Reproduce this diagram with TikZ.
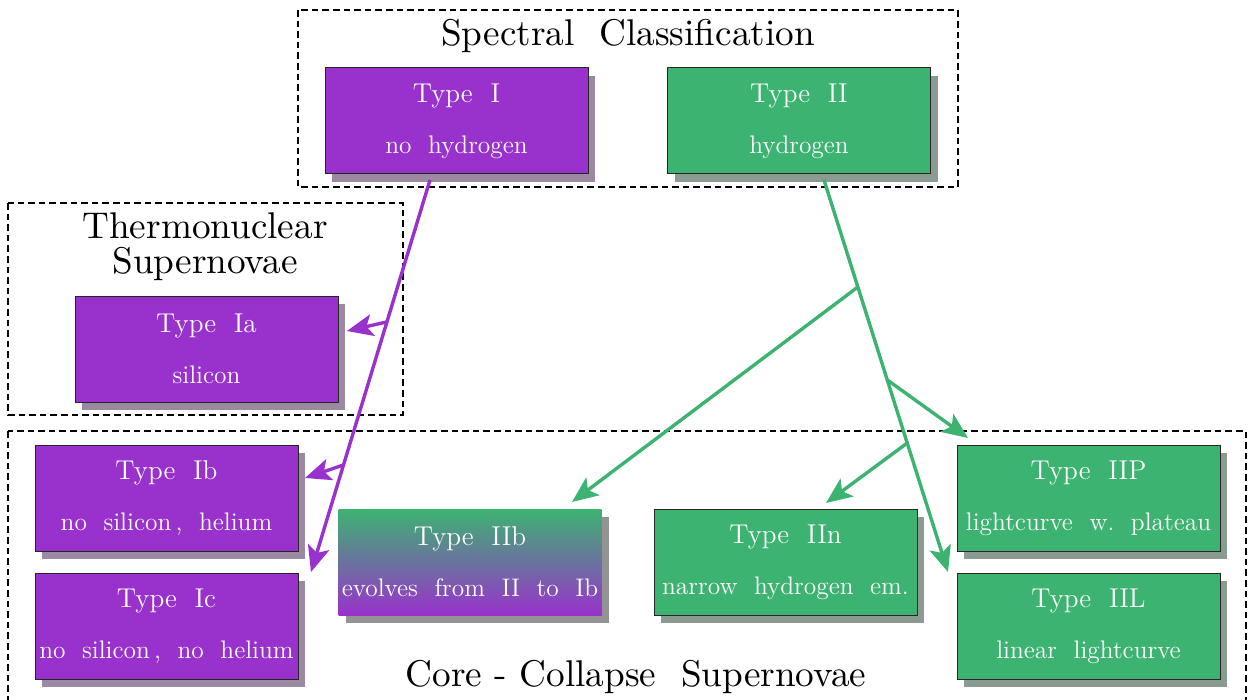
\documentclass[tikz,border=0pt]{standalone}
\usetikzlibrary{shadows,calc,arrows.meta}
\definecolor{sncI}{HTML}{9932CC}
\definecolor{sncII}{HTML}{3CB371}
\definecolor{shI}{HTML}{9A89A0}
\definecolor{shII}{HTML}{8B9B92}
\definecolor{shIIb}{HTML}{939393}
\newcommand{\boxfont}{\fontsize{12.7}{15}\selectfont}
\newcommand{\hd}[1]{{\fontsize{13.6}{15}\selectfont #1}}
\tikzset{
  sbox/.style={draw=black!85, line width=0.5pt, minimum width=131.5pt, minimum height=53pt,
    text=white, align=center, inner sep=0pt, font=\boxfont},
  purpbox/.style={sbox, fill=sncI,
    drop shadow={shadow xshift=3.5pt, shadow yshift=-4pt, fill=shI, opacity=1}},
  greenbox/.style={sbox, fill=sncII,
    drop shadow={shadow xshift=3.5pt, shadow yshift=-4pt, fill=shII, opacity=1}},
  mixbox/.style={sbox, draw=none, top color=sncII, bottom color=sncI,
    drop shadow={shadow xshift=3.5pt, shadow yshift=-4pt, fill=shIIb, opacity=1}},
  groupbox/.style={draw=black, line width=0.7pt, dash pattern=on 3.3pt off 2pt},
  grouptitle/.style={font=\fontsize{10}{9.4}\selectfont, align=center, inner sep=0pt,
    scale=1.86, transform shape},
  parrow/.style={draw=sncI, line width=1.7pt, -{Stealth[length=13pt, width=11pt, inset=3pt]}},
  garrow/.style={draw=sncII, line width=1.7pt, -{Stealth[length=13pt, width=11pt, inset=3pt]}},
}
\begin{document}
\begin{tikzpicture}[x=0.5pt, y=-0.5pt]
\useasboundingbox (0,0) rectangle (1251,700);
\clip (0,0) rectangle (1251,700);

% group frames
\draw[groupbox] (298,10) rectangle (958,187);
\draw[groupbox] (8,203) rectangle (403,415);
\draw[groupbox] (8,431) rectangle (1246,706);

\node[grouptitle] (tspec) at (628,36) {Spectral\ \ Classification};
\node[grouptitle] (tthermo) at (205,247) {Thermonuclear\\Supernovae};
\node[grouptitle] (tcore) at (636,677) {Core\ -\ Collapse\ \ Supernovae};

% boxes
\node[purpbox] (I) at (456.5,121) {\hd{Type\ \ I}\\[10.5pt]no\ \ hydrogen};
\node[greenbox] (II) at (799,121) {\hd{Type\ \ II}\\[10.5pt]hydrogen};
\node[purpbox] (Ia) at (206.5,349) {\hd{Type\ \ Ia}\\[10.5pt]silicon};
\node[purpbox] (Ib) at (166.5,498) {\hd{Type\ \ Ib}\\[10.5pt]no\ \ silicon\,,\ \ helium};
\node[purpbox] (Ic) at (166.5,626) {\hd{Type\ \ Ic}\\[10.5pt]no\ \ silicon\,,\ \ no\ \ helium};
\node[mixbox] (IIb) at (470,562) {\hd{Type\ \ IIb}\\[10.5pt]evolves\ \ from\ \ II\ \ to\ \ Ib};
\node[greenbox] (IIn) at (785.5,562) {\hd{Type\ \ IIn}\\[10.5pt]narrow\ \ hydrogen\ \ em.};
\node[greenbox] (IIP) at (1088.5,498) {\hd{Type\ \ IIP}\\[10.5pt]lightcurve\ \ w.\ \ plateau};
\node[greenbox] (IIL) at (1088.5,626) {\hd{Type\ \ IIL}\\[10.5pt]linear\ \ lightcurve};

% purple arrows
\coordinate (aI) at (430,180);
\coordinate (eI) at (311,572);
\coordinate (bIa) at ($(aI)!0.362!(eI)$);
\coordinate (bIb) at ($(aI)!0.727!(eI)$);
\coordinate (tIa) at (347,331);
\coordinate (tIb) at (305,478);
\draw[parrow] (aI) -- (eI);
\draw[parrow] (bIa) -- (tIa);
\draw[parrow] (bIb) -- (tIb);

% green arrows
\coordinate (aII) at (824,180);
\coordinate (eII) at (948,572);
\coordinate (bIIb) at ($(aII)!0.273!(eII)$);
\coordinate (bIIP) at ($(aII)!0.51!(eII)$);
\coordinate (bIIn) at ($(aII)!0.671!(eII)$);
\coordinate (tIIb) at (572,502);
\coordinate (tIIP) at (968,438);
\coordinate (tIIn) at (826,503);
\draw[garrow] (aII) -- (eII);
\draw[garrow] (bIIb) -- (tIIb);
\draw[garrow] (bIIP) -- (tIIP);
\draw[garrow] (bIIn) -- (tIIn);
\end{tikzpicture}
\end{document}
